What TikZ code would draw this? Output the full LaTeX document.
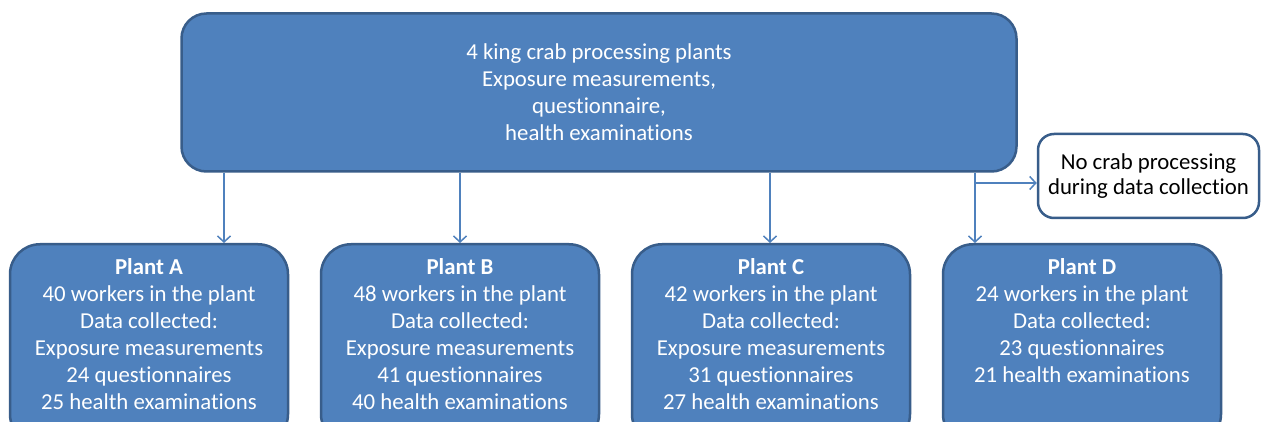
\documentclass[tikz,border=0pt]{standalone}
\usepackage{fontspec}
\setmainfont{Carlito}[Ligatures={NoCommon}]
\usetikzlibrary{arrows.meta}
\definecolor{boxfill}{HTML}{4F81BD}
\definecolor{boxline}{HTML}{385D8A}
\tikzset{
  bluebox/.style={draw=boxline, fill=boxfill, line width=2.5pt, rounded corners=#1},
  plantbox/.style={bluebox=30pt, minimum width=278pt, minimum height=200pt, anchor=north, inner sep=0pt},
  planttext/.style={text=white, align=center, anchor=north, inner sep=0pt, font=\fontsize{22.8}{27}\selectfont},
  arr/.style={draw=boxfill, line width=1.5pt, -{Straight Barb[length=6pt,width=13pt,line width=1.5pt]}},
}
\begin{document}
\begin{tikzpicture}[x=1pt,y=1pt]
\useasboundingbox (0,0) rectangle (1262,421);
\clip (0,0) rectangle (1262,421);
\fill[white] (0,0) rectangle (1262,421);
% top box
\node[bluebox=25pt, minimum width=835pt, minimum height=158pt, text=white, align=center,
      font=\fontsize{22.8}{27}\selectfont] (top) at (599,328.5)
  {4 king crab processing plants\\Exposure measurements,\\questionnaire,\\health examinations};
% note box
\node[draw=boxline, fill=white, line width=2.5pt, rounded corners=16pt,
      minimum width=221pt, minimum height=84pt, align=center,
      font=\fontsize{22.8}{25}\selectfont] (note) at (1148.5,245)
  {No crab processing\\during data collection};
% plant boxes
\node[plantbox] (boxA) at (149,178) {};
\node[plantbox] (boxB) at (460,178) {};
\node[plantbox] (boxC) at (771,178) {};
\node[plantbox] (boxD) at (1082,178) {};
\node[planttext] (txtA) at ([yshift=-15pt]boxA.north)
  {\textbf{Plant A}\\40 workers in the plant\\Data collected:\\Exposure measurements\\24 questionnaires\\25 health examinations};
\node[planttext] (txtB) at ([yshift=-15pt]boxB.north)
  {\textbf{Plant B}\\48 workers in the plant\\Data collected:\\Exposure measurements\\41 questionnaires\\40 health examinations};
\node[planttext] (txtC) at ([yshift=-15pt]boxC.north)
  {\textbf{Plant C}\\42 workers in the plant\\Data collected:\\Exposure measurements\\31 questionnaires\\27 health examinations};
\node[planttext] (txtD) at ([yshift=-15pt]boxD.north)
  {\textbf{Plant D}\\24 workers in the plant\\Data collected:\\23 questionnaires\\21 health examinations};
% arrows
\coordinate (xA) at (224,0);
\coordinate (xB) at (460,0);
\coordinate (xC) at (770,0);
\coordinate (xD) at (975,0);
\draw[arr] (top.south -| xA) -- (boxA.north -| xA);
\draw[arr] (top.south -| xB) -- (boxB.north -| xB);
\draw[arr] (top.south -| xC) -- (boxC.north -| xC);
\draw[arr] (top.south -| xD) -- (boxD.north -| xD);
\coordinate (br) at (975,238);
\draw[arr] (br) -- (note.west |- br);
\end{tikzpicture}
\end{document}
